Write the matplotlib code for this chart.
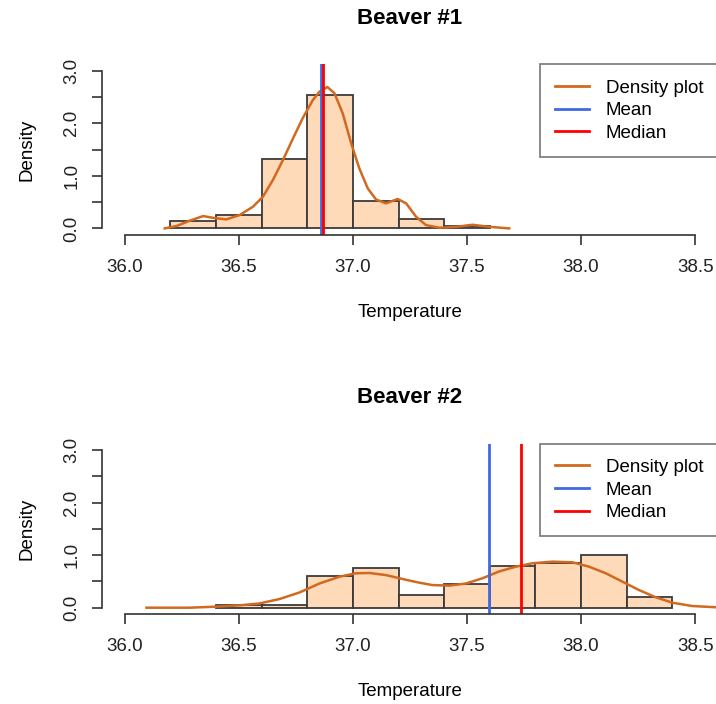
import numpy as np
import matplotlib.pyplot as plt
from matplotlib.lines import Line2D

plt.rcParams['font.family'] = ['Liberation Sans', 'DejaVu Sans']

# Histogram data (bin edges, counts) for the two beavers
edges1 = [36.2, 36.4, 36.6, 36.8, 37.0, 37.2, 37.4, 37.6]
counts1 = [3, 6, 30, 58, 12, 4, 1]
edges2 = [36.4, 36.6, 36.8, 37.0, 37.2, 37.4, 37.6, 37.8, 38.0, 38.2, 38.4]
counts2 = [1, 1, 12, 15, 5, 9, 16, 17, 20, 4]

# Summary statistics
mean1, median1 = 36.862, 36.87
mean2, median2 = 37.5965, 37.735

# Density curves
dens1_x = [36.175, 36.226, 36.284, 36.343, 36.394, 36.445, 36.503, 36.561, 36.605,
           36.649, 36.693, 36.737, 36.780, 36.824, 36.853, 36.888, 36.919, 36.955,
           36.992, 37.028, 37.065, 37.101, 37.145, 37.196, 37.233, 37.277, 37.32,
           37.379, 37.452, 37.524, 37.597, 37.685]
dens1_y = [0.0, 0.044, 0.145, 0.234, 0.196, 0.171, 0.253, 0.41, 0.60,
           0.92, 1.30, 1.71, 2.10, 2.44, 2.60, 2.69, 2.57, 2.19,
           1.62, 1.14, 0.76, 0.55, 0.476, 0.56, 0.476, 0.22, 0.063,
           0.012, 0.03, 0.069, 0.03, 0.0]
dens2_x = [36.095, 36.284, 36.401, 36.503, 36.59, 36.678, 36.766, 36.853, 36.941,
           37.014, 37.072, 37.145, 37.233, 37.291, 37.349, 37.422, 37.495, 37.568,
           37.641, 37.714, 37.787, 37.874, 37.962, 38.035, 38.108, 38.181, 38.253,
           38.327, 38.4, 38.487, 38.6]
dens2_y = [0.0, 0.0, 0.02, 0.045, 0.08, 0.165, 0.29, 0.46, 0.59,
           0.655, 0.66, 0.62, 0.53, 0.476, 0.43, 0.42, 0.46, 0.56,
           0.69, 0.78, 0.845, 0.876, 0.864, 0.78, 0.655, 0.495, 0.337,
           0.198, 0.095, 0.032, 0.006]

x_ticks = [36.0, 36.5, 37.0, 37.5, 38.0, 38.5]
y_ticks = [0.0, 0.5, 1.0, 1.5, 2.0, 2.5, 3.0]
y_labels = ['0.0', '', '1.0', '', '2.0', '', '3.0']

FILL = '#FFDAB9'
EDGE = '#3a3a3a'
DENS = '#D2691E'
MEAN = '#4169E1'
MED = '#FF0000'
FS = 13.5

W, H = 716, 704
fig = plt.figure(figsize=(W / 100, H / 100), dpi=100)

panels = [
    ("Beaver #1", edges1, counts1, dens1_x, dens1_y, mean1, median1, 64.4),
    ("Beaver #2", edges2, counts2, dens2_x, dens2_y, mean2, median2, 443.7),
]

for title, edges, counts, dx, dy, mu, med, top_px in panels:
    left_px, right_px, height_px = 102, 718, 170.3
    ax = fig.add_axes([left_px / W, 1 - (top_px + height_px) / H,
                       (right_px - left_px) / W, height_px / H])
    edges = np.array(edges)
    counts = np.array(counts)
    width = np.diff(edges)
    dens = counts / (counts.sum() * width)
    ax.bar(edges[:-1], dens, width=width, align='edge', color=FILL,
           edgecolor=EDGE, linewidth=1.3)
    ax.plot(dx, dy, color=DENS, lw=1.8, solid_joinstyle='round')
    ax.axvline(mu, color=MEAN, lw=2.0)
    ax.axvline(med, color=MED, lw=2.0)

    ax.set_xlim(35.9, 38.6)
    ax.set_ylim(-0.12, 3.12)
    for s in ['top', 'right']:
        ax.spines[s].set_visible(False)
    ax.spines['left'].set_bounds(0, 3)
    ax.spines['bottom'].set_bounds(36.0, 38.5)
    for s in ['left', 'bottom']:
        ax.spines[s].set_color('#333333')
        ax.spines[s].set_linewidth(1.2)
    ax.set_xticks(x_ticks)
    ax.set_xticklabels([f"{t:.1f}" for t in x_ticks])
    ax.set_yticks(y_ticks)
    ax.set_yticklabels(y_labels)
    ax.tick_params(axis='both', length=7.5, width=1.2, color='#333333',
                   labelsize=FS, labelcolor='#222222')
    ax.tick_params(axis='x', pad=10)
    ax.tick_params(axis='y', pad=8)
    for lab in ax.get_yticklabels():
        lab.set_rotation(90)
        lab.set_va('center')

    handles = [Line2D([], [], color=DENS, lw=2.0),
               Line2D([], [], color=MEAN, lw=2.0),
               Line2D([], [], color=MED, lw=2.0)]
    leg = ax.legend(handles, ['Density plot', 'Mean', 'Median'],
                    loc='upper right', bbox_to_anchor=(1.0, 1.0),
                    borderaxespad=0.0, fontsize=FS, frameon=True,
                    fancybox=False, handlelength=1.8, handletextpad=0.9,
                    labelspacing=0.3, borderpad=0.8)
    leg.get_frame().set_edgecolor('#555555')
    leg.get_frame().set_linewidth(1.2)

    bottom_px = top_px + height_px
    fig.text((left_px + right_px) / 2 / W, 1 - (top_px - 46) / H, title,
             ha='center', va='center', fontsize=16, fontweight='bold')
    fig.text((left_px + right_px) / 2 / W, 1 - (bottom_px + 78) / H,
             'Temperature', ha='center', va='center', fontsize=FS)
    fig.text(27 / W, 1 - (top_px + height_px / 2) / H, 'Density',
             ha='center', va='center', rotation=90, fontsize=FS)

fig.savefig('out.png', dpi=100)
